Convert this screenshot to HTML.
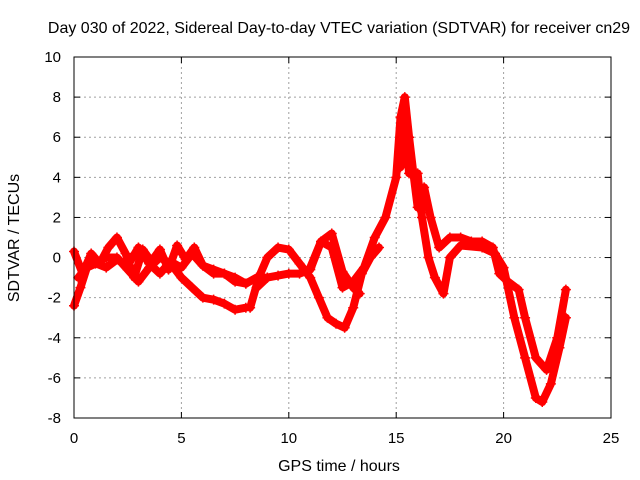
<!DOCTYPE html>
<html><head><meta charset="utf-8"><style>
body{margin:0;background:#fff}
svg{display:block;font-family:"Liberation Sans",sans-serif}
</style></head><body>
<svg id="chart" width="640" height="480">
<rect width="640" height="480" fill="#fff"/>
<text x="339" y="33" text-anchor="middle" font-size="16">Day 030 of 2022, Sidereal Day-to-day VTEC variation (SDTVAR) for receiver cn29</text>
<text x="339" y="471" text-anchor="middle" font-size="16">GPS time / hours</text>
<text transform="translate(19,238) rotate(-90)" text-anchor="middle" font-size="16">SDTVAR / TECUs</text>
<g id="grid"></g><g id="series"></g>
<rect x="74" y="57" width="537" height="361" fill="none" stroke="#000" stroke-width="1"/>
</svg>
<script>
const xTicks=[0,5,10,15,20,25];
const yTicks=[-8,-6,-4,-2,0,2,4,6,8,10];
const traceA_x=[0,0.3,0.6,1,1.5,2,2.5,3,3.5,4,4.5,5,5.5,6,6.5,7,7.5,8];
const traceA_y=[-2.4,-1.5,-0.5,-0.3,0,0,-0.6,-1.2,-0.5,0,-0.3,-1,-1.5,-2,-2.1,-2.3,-2.6,-2.5];
const traceB_x=[0,0.4,0.8,1.2,1.6,2,2.4,2.8,3.2,3.6,4,4.4,4.8,5.2,5.6,6,6.5,7,7.5,8,8.5,9];
const traceB_y=[0.3,-0.8,0.2,-0.3,0.5,1,0.2,-1,0.4,-0.2,0.4,-0.6,0.6,-0.1,0.5,-0.4,-0.8,-0.8,-1.2,-1.3,-1,-1];
const traceC_x=[0.2,0.8,1.5,2,2.5,3,3.5,4,4.5,5,5.5,6,6.5,7,7.5,8];
const traceC_y=[-1,-0.2,-0.5,-0.1,-0.4,0.5,-0.3,-0.8,-0.2,-0.5,0.2,-0.4,-0.6,-0.8,-1,-1.3];
const traceD_x=[8.2,8.6,9,9.5,10,10.5,11,11.4,11.8,12.2,12.6,13,13.4,13.8,14.2];
const traceD_y=[-2.5,-1,0,0.5,0.4,-0.3,-1,-2,-3,-3.3,-3.5,-2.5,-0.8,0,0.5];
const traceE_x=[8.5,9,9.5,10,10.5,11,11.5,12,12.5,13,13.3];
const traceE_y=[-1.5,-1,-0.9,-0.8,-0.8,-0.6,0.8,1.2,-0.7,-1.5,-1.8];
const traceF_x=[11,11.5,12,12.5,13,13.5,14,14.5,15,15.2,15.4,15.6,15.8,16,16.3,16.6,17,17.5,18,18.5,19,19.5,19.8,20.2,20.7,21,21.5,22,22.5,22.9];
const traceF_y=[-0.5,0.8,0.5,-1.5,-1.2,-0.5,1,2,4,7,8,6,4.2,2.5,3.5,2,0.5,1,1,0.8,0.8,0.5,-0.8,-1.2,-1.6,-3,-5,-5.6,-4,-1.6];
const traceG_x=[15.2,15.4,15.6,16,16.2,16.5,16.8,17.2,17.5,18,19,19.6,20,20.5,21,21.5,21.8,22.2,22.6,22.9];
const traceG_y=[4.5,6.5,4.2,4.2,2,0,-1,-1.8,0,0.6,0.5,0.2,-0.5,-3,-5,-7,-7.2,-6.3,-4.5,-3];
const traces=[[traceA_x,traceA_y],[traceB_x,traceB_y],[traceC_x,traceC_y],[traceD_x,traceD_y],[traceE_x,traceE_y],[traceF_x,traceF_y],[traceG_x,traceG_y]];
const NS="http://www.w3.org/2000/svg";
const X=v=>74+v*(537/25);
const Y=v=>418-(v+8)*(361/18);
const grid=document.getElementById('grid');
function mk(t,a,p){const e=document.createElementNS(NS,t);for(const k in a)e.setAttribute(k,a[k]);p.appendChild(e);return e;}
xTicks.forEach(t=>{
  if(t>0&&t<25){const l=mk('line',{x1:X(t),x2:X(t),y1:57,y2:418,stroke:'#a0a0a0','stroke-dasharray':'2,3'},grid);
  
  }
  mk('line',{x1:X(t),x2:X(t),y1:418,y2:412,stroke:'#000'},grid);
  mk('line',{x1:X(t),x2:X(t),y1:57,y2:63,stroke:'#000'},grid);
  const tx=mk('text',{x:X(t),y:443,'text-anchor':'middle','font-size':15},grid);tx.textContent=t;
  
  
});
yTicks.forEach(t=>{
  if(t>-8&&t<10){const l=mk('line',{x1:74,x2:611,y1:Y(t),y2:Y(t),stroke:'#a0a0a0','stroke-dasharray':'2,3'},grid);
  
  }
  mk('line',{x1:74,x2:80,y1:Y(t),y2:Y(t),stroke:'#000'},grid);
  mk('line',{x1:605,x2:611,y1:Y(t),y2:Y(t),stroke:'#000'},grid);
  const tx=mk('text',{x:61,y:Y(t)+5,'text-anchor':'end','font-size':15},grid);tx.textContent=t;
  
  
});
const S=document.getElementById('series');
traces.forEach(([xs,ys],i)=>{
  const g=mk('g',{},S);
  
  
  const pts=xs.map((x,j)=>X(x)+','+Y(ys[j])).join(' ');
  mk('polyline',{points:pts,fill:'none',stroke:'#ff0000','stroke-width':8,'stroke-linejoin':'round','stroke-linecap':'round'},g);
  xs.forEach((x,j)=>{
    const cx=X(x),cy=Y(ys[j]);
    mk('path',{d:`M${cx-5},${cy}H${cx+5}M${cx},${cy-5}V${cy+5}`,stroke:'#ff0000','stroke-width':1.5},g);
  });
});
</script>
</body></html>
